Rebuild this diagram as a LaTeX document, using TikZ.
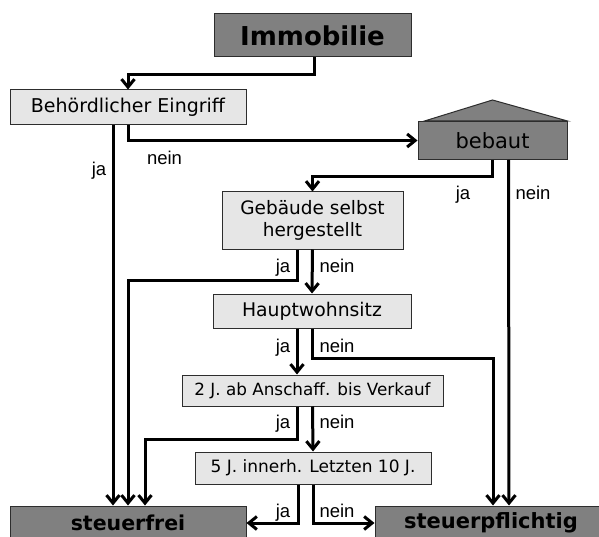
\documentclass[tikz,border=0pt]{standalone}
\usepackage{xcolor}
\usepackage{tikz}
\usepackage{fontspec}
\setmainfont{DejaVu Sans}
\newfontfamily\labelfont{Liberation Sans}
\usetikzlibrary{arrows.meta}
\definecolor{boxdark}{RGB}{128, 128, 128}
\definecolor{boxlight}{RGB}{230, 230, 230}
\definecolor{boxline}{RGB}{45, 45, 45}

\begin{document}
\begin{tikzpicture}[x=1pt, y=-1pt,
        darkbox/.style={draw=boxline, line width=1pt, fill=boxdark, inner sep=0pt, align=center},
        lightbox/.style={draw=boxline, line width=1pt, fill=boxlight, inner sep=0pt, align=center},
        flow/.style={line width=3pt, -{Straight Barb[length=8pt, width=13pt]}},
        lbl/.style={font=\labelfont\fontsize{18.5}{20}\selectfont, anchor=base, inner sep=0pt}]
        \useasboundingbox (0,0) rectangle (599,537);

        \node (imm) [darkbox, minimum width=197pt, minimum height=43pt, font=\bfseries\fontsize{26}{28}\selectfont] at (312.5,35.5) {Immobilie};
        \node (beh) [lightbox, minimum width=236pt, minimum height=35pt, font=\fontsize{19}{22}\selectfont] at (128,107.5) {Behördlicher Eingriff};
        \node (bebaut) [darkbox, minimum width=149pt, minimum height=38pt, font=\fontsize{21}{24}\selectfont] at (492.5,140.5) {bebaut};
        \fill[boxdark, draw=boxline, line width=1pt] ([xshift=7pt]bebaut.north west) -- ([yshift=21pt]bebaut.north) -- (bebaut.north east) -- cycle;
        \node (geb) [lightbox, minimum width=181pt, minimum height=57pt, font=\fontsize{18.5}{22}\selectfont] at (312.5,220.5) {Gebäude selbst\\hergestellt};
        \node (haupt) [lightbox, minimum width=198pt, minimum height=34pt, font=\fontsize{18.8}{22}\selectfont] at (312,311) {Hauptwohnsitz};
        \node (zwei) [lightbox, minimum width=261pt, minimum height=31pt, font=\fontsize{16.8}{20}\selectfont] at (312.5,390.5) {2 J. ab Anschaff. bis Verkauf};
        \node (fuenf) [lightbox, minimum width=236pt, minimum height=32pt, font=\fontsize{17}{20}\selectfont] at (313,468) {5 J. innerh. Letzten 10 J.};
        \node (frei) [darkbox, minimum width=236pt, minimum height=34pt, font=\bfseries\fontsize{20.5}{24}\selectfont] at (128,523) {steuerfrei};
        \node (pf) [darkbox, minimum width=236pt, minimum height=34pt, font=\bfseries\fontsize{21}{24}\selectfont] at (493,523) {\hspace*{-4pt}steuerpflichtig};

        % connectors
        \draw[flow] ([xshift=1.5pt]imm.south) -- ++(0,17.5) -| (beh.north);
        \draw[flow] ([xshift=-15pt]beh.south) -- ([xshift=-15pt]frei.north);
        \draw[flow] (beh.south) |- (bebaut.west);
        \draw[flow] (bebaut.south) -- ++(0,16.5) -| (geb.north);
        \draw[flow] ([xshift=16pt]bebaut.south) -- ([xshift=16pt]pf.north);
        \draw[flow] ([xshift=-15pt]geb.south) -- ++(0,31) -| (frei.north);
        \draw[flow] (geb.south) -- (haupt.north);
        \draw[flow] ([xshift=-15pt]haupt.south) -- ([xshift=-15pt]haupt.south |- zwei.north);
        \draw[flow] (haupt.south) -- ++(0,30) -| (pf.north);
        \draw[flow] ([xshift=-15pt]zwei.south) -- ++(0,33) -| ([xshift=17pt]frei.north);
        \draw[flow] (zwei.south) -- (fuenf.north);
        \draw[flow] ([xshift=-15pt]fuenf.south) |- (frei.east);
        \draw[flow] (fuenf.south) |- (pf.west);

        % ja / nein labels
        \node (behja) [lbl] at (99,176) {ja};
        \node (behnein) [lbl] at (164.5,165) {nein};
        \node (bebja) [lbl] at (463,200) {ja};
        \node (bebnein) [lbl] at (533,200) {nein};
        \node (gebja) [lbl] at (283,272) {ja};
        \node (gebnein) [lbl] at (337,272) {nein};
        \node (hauptja) [lbl] at (283,352) {ja};
        \node (hauptnein) [lbl] at (337,352) {nein};
        \node (zweija) [lbl] at (283,428) {ja};
        \node (zweinein) [lbl] at (337,428) {nein};
        \node (fuenfja) [lbl] at (283,517) {ja};
        \node (fuenfnein) [lbl] at (337,517) {nein};
    \end{tikzpicture}
\end{document}
